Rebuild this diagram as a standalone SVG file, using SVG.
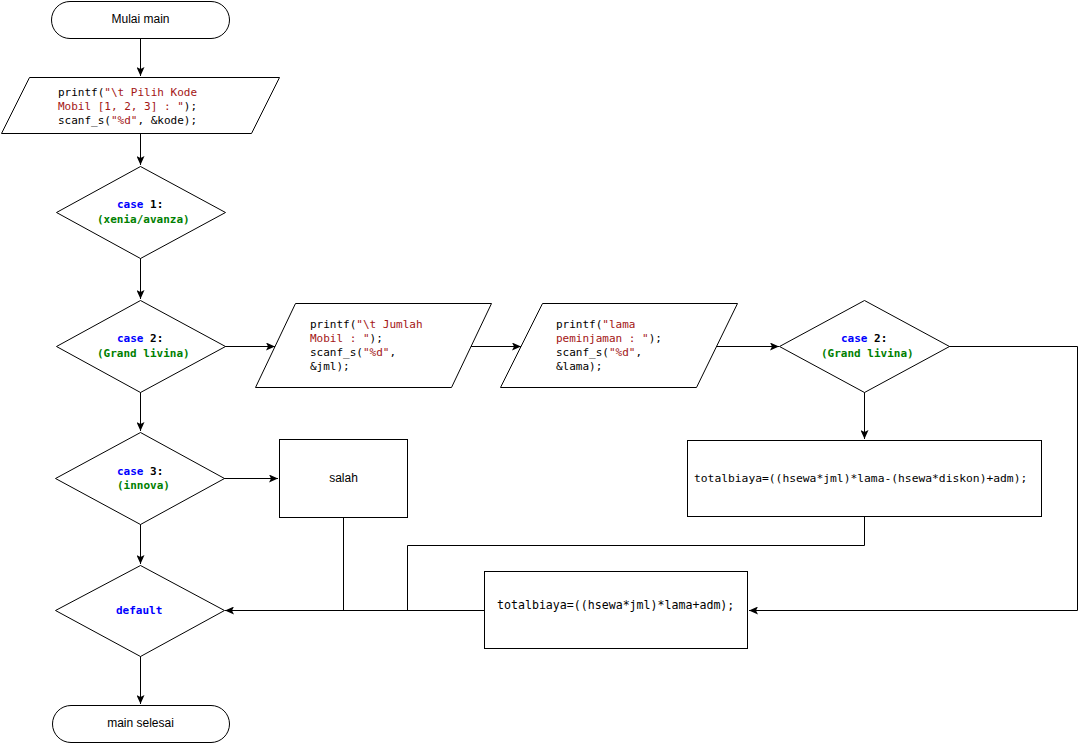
<svg xmlns="http://www.w3.org/2000/svg" width="1079" height="743" viewBox="0 0 1079 743">
<defs>
<style>
.shape{fill:#fff;stroke:#000;stroke-width:1}
.conn{fill:none;stroke:#000;stroke-width:1}
.code{font-family:"DejaVu Sans Mono","Liberation Mono",monospace;font-size:11px;fill:#000;white-space:pre}
.b{font-weight:bold}
.str{fill:#a31515}
.kw{fill:#0000ff}
.grn{fill:#008000}
.lbl{font-family:"Liberation Sans",Arial,sans-serif;font-size:12px;fill:#000;text-anchor:middle}
</style>
<marker id="arr" markerUnits="userSpaceOnUse" markerWidth="10" markerHeight="8" refX="9" refY="4" orient="auto">
<path d="M0,0 L9,4 L0,8 L2,4 z" fill="#000"/>
</marker>
</defs>
<rect width="1079" height="743" fill="#fff"/>
<g id="connectors">
<path class="conn" d="M140.5,38 V76" marker-end="url(#arr)"/>
<path class="conn" d="M140.5,134 V165" marker-end="url(#arr)"/>
<path class="conn" d="M140.5,258 V299" marker-end="url(#arr)"/>
<path class="conn" d="M140.5,392 V406 H140.5 V431" marker-end="url(#arr)"/>
<path class="conn" d="M140.5,524 V564" marker-end="url(#arr)"/>
<path class="conn" d="M140.5,656 V672 V704" marker-end="url(#arr)"/>
<path class="conn" d="M225,346.5 H275" marker-end="url(#arr)"/>
<path class="conn" d="M471,346.5 H521" marker-end="url(#arr)"/>
<path class="conn" d="M716,346.5 H779" marker-end="url(#arr)"/>
<path class="conn" d="M864.5,392 V439" marker-end="url(#arr)"/>
<path class="conn" d="M949,346.5 H1077.5 V610.5 H749" marker-end="url(#arr)"/>
<path class="conn" d="M864.5,516 V545.5 H407.5 V610.5"/>
<path class="conn" d="M343.5,517 V610.5"/>
<path class="conn" d="M484,610.5 H225" marker-end="url(#arr)"/>
<path class="conn" d="M224,478.5 H278" marker-end="url(#arr)"/>
</g>
<g id="start">
<rect class="shape" x="51.5" y="1.5" width="178" height="37" rx="18.5" ry="18.5"/>
<text class="lbl" x="140.5" y="22.5">Mulai main</text>
</g>
<g id="input-kode">
<polygon class="shape" points="29.5,77.5 279.5,77.5 251.5,133.5 1.5,133.5"/>
<text class="code" x="58" y="96">printf(<tspan class="str">"\t Pilih Kode</tspan></text>
<text class="code" x="58" y="110"><tspan class="str">Mobil [1, 2, 3] : "</tspan>);</text>
<text class="code" x="58" y="124">scanf_s(<tspan class="str">"%d"</tspan>, &amp;kode);</text>
</g>
<g id="case1">
<polygon class="shape" points="140.5,166.5 225.5,212.5 140.5,258.5 56.5,212.5"/>
<text class="code b" x="117" y="208"><tspan class="kw">case</tspan> 1:</text>
<text class="code b grn" x="97" y="223">(xenia/avanza)</text>
</g>
<g id="case2">
<polygon class="shape" points="140.5,300.5 225.5,346.5 140.5,392.5 56.5,346.5"/>
<text class="code b" x="117" y="342"><tspan class="kw">case</tspan> 2:</text>
<text class="code b grn" x="97" y="357">(Grand livina)</text>
</g>
<g id="input-jml">
<polygon class="shape" points="295.5,303.5 491.5,303.5 451.5,387.5 255.5,387.5"/>
<text class="code" x="310" y="328">printf(<tspan class="str">"\t Jumlah</tspan></text>
<text class="code" x="310" y="342"><tspan class="str">Mobil : "</tspan>);</text>
<text class="code" x="310" y="356">scanf_s(<tspan class="str">"%d"</tspan>,</text>
<text class="code" x="310" y="370">&amp;jml);</text>
</g>
<g id="input-lama">
<polygon class="shape" points="542.5,303.5 737.5,303.5 696.5,387.5 500.5,387.5"/>
<text class="code" x="556" y="328">printf(<tspan class="str">"lama</tspan></text>
<text class="code" x="556" y="342"><tspan class="str">peminjaman : "</tspan>);</text>
<text class="code" x="556" y="356">scanf_s(<tspan class="str">"%d"</tspan>,</text>
<text class="code" x="556" y="370">&amp;lama);</text>
</g>
<g id="case2b">
<polygon class="shape" points="864.5,300.5 949.5,346.5 864.5,392.5 779.5,346.5"/>
<text class="code b" x="841" y="342"><tspan class="kw">case</tspan> 2:</text>
<text class="code b grn" x="821" y="357">(Grand livina)</text>
</g>
<g id="total-diskon">
<rect class="shape" x="687.5" y="440.5" width="354" height="76"/>
<text class="code" x="694" y="482" style="font-size:11.3px">totalbiaya=((hsewa*jml)*lama-(hsewa*diskon)+adm);</text>
</g>
<g id="case3">
<polygon class="shape" points="140.5,432.5 224.5,478.5 140.5,524.5 55.5,478.5"/>
<text class="code b" x="117" y="475"><tspan class="kw">case</tspan> 3:</text>
<text class="code b grn" x="117" y="489">(innova)</text>
</g>
<g id="salah">
<rect class="shape" x="279.5" y="439.5" width="128" height="78"/>
<text class="lbl" x="343.5" y="482">salah</text>
</g>
<g id="total">
<rect class="shape" x="484.5" y="571.5" width="263" height="77"/>
<text class="code" x="497" y="609" style="font-size:11.6px">totalbiaya=((hsewa*jml)*lama+adm);</text>
</g>
<g id="default">
<polygon class="shape" points="140.5,565.5 224.5,610.5 140.5,656.5 55.5,610.5"/>
<text class="code b kw" x="116" y="614">default</text>
</g>
<g id="end">
<rect class="shape" x="52.5" y="705.5" width="177" height="37" rx="18.5" ry="18.5"/>
<text class="lbl" x="140.5" y="727">main selesai</text>
</g>
</svg>
